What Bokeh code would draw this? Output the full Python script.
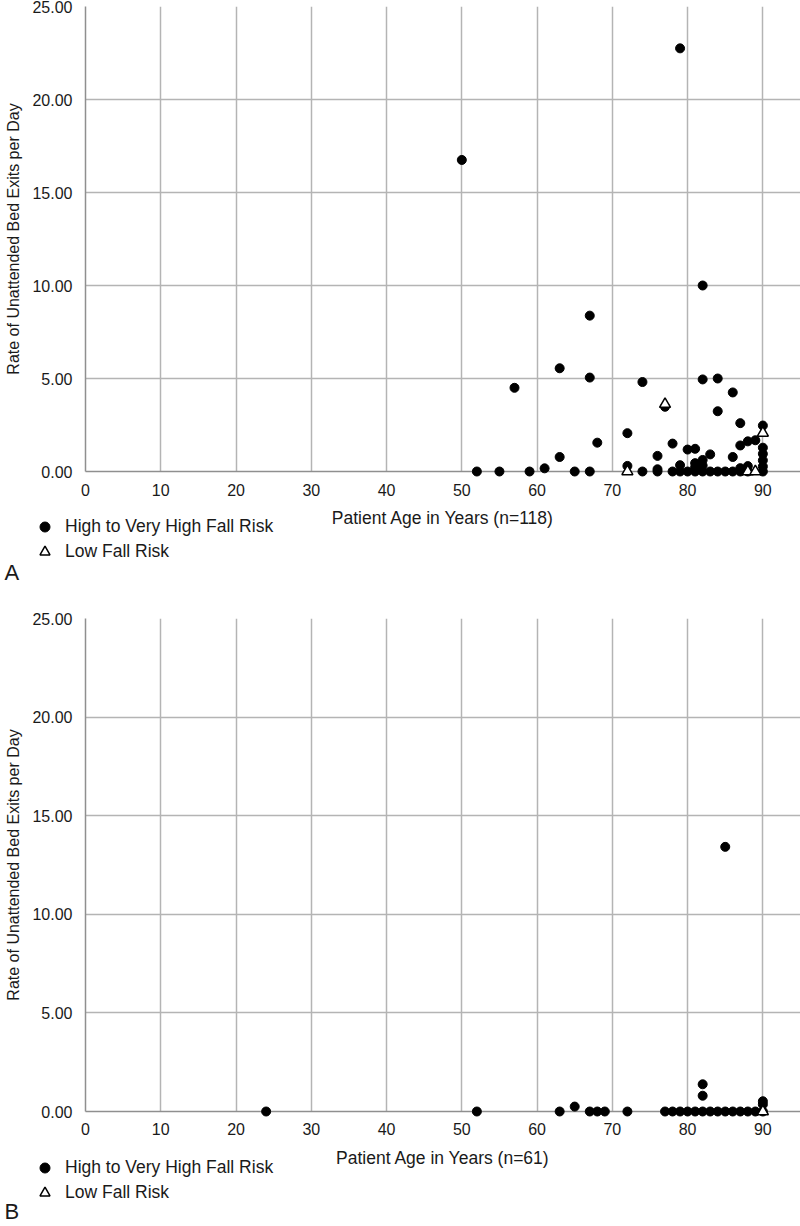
import numpy as np
from bokeh.plotting import figure
from bokeh.layouts import column
from bokeh.models import (Range1d, FixedTicker, Legend, LegendItem, Label,
                          PrintfTickFormatter, ColumnDataSource)
from bokeh.embed import file_html
from bokeh.resources import INLINE

# ---------------- data ----------------
# Panel A (n=118)
a_high_age = [50, 79, 82, 67, 63, 67, 57, 74, 82, 84, 86, 84, 77, 87, 90, 72, 68, 78, 87, 88,
              89, 90, 80, 81, 83, 86, 76, 63, 90, 90, 90, 82, 81, 82, 79, 81, 61, 72, 76, 88,
              87, 52, 55, 59, 65, 67, 74, 76, 78, 79, 80, 81, 82, 83, 84, 85, 86, 87, 88, 90]
a_high_rate = [16.75, 22.75, 10.0, 8.38, 5.55, 5.05, 4.5, 4.81, 4.95, 5.0, 4.25, 3.24, 3.48, 2.6,
               2.47, 2.06, 1.55, 1.5, 1.4, 1.62, 1.68, 1.28, 1.18, 1.22, 0.92, 0.78, 0.84, 0.78,
               0.95, 0.6, 0.27, 0.62, 0.45, 0.32, 0.34, 0.23, 0.17, 0.3, 0.12, 0.29, 0.18,
               0, 0, 0, 0, 0, 0, 0, 0, 0, 0, 0, 0, 0, 0, 0, 0, 0, 0, 0]
a_low_age = [77, 90, 72, 88, 89]
a_low_rate = [3.62, 2.07, 0.0, 0.0, 0.0]

# Panel B (n=61)
b_high_age = [24, 52, 63, 65, 67, 68, 69, 72, 77, 78, 79, 80, 81, 82, 83, 84, 85, 86, 87, 88,
              89, 90, 82, 82, 90, 90, 85]
b_high_rate = [0, 0, 0, 0.25, 0, 0, 0, 0, 0, 0, 0, 0, 0, 0, 0, 0, 0, 0, 0, 0,
               0, 0, 1.38, 0.8, 0.52, 0.36, 13.42]
b_low_age = [90]
b_low_rate = [0.0]

x_ticks = [0, 10, 20, 30, 40, 50, 60, 70, 80, 90]
y_ticks = [0, 5, 10, 15, 20, 25]
legend_labels = ["High to Very High Fall Risk", "Low Fall Risk"]

FONT = "Liberation Sans"
TXT = "#1a1a1a"
GRID = "#b4b4b4"
AXIS = "#8f8f8f"
W = 800

HIGH_STYLE = dict(marker="circle", size=9, fill_color="black", line_color="black")
LOW_STYLE = dict(marker="triangle", size=11, fill_color="white", line_color="black",
                 line_width=1.5)


def panel(high_age, high_rate, low_age, low_rate, xlabel, top, frame_h, bottom,
          tick_standoff, title_standoff):
    p = figure(width=W, height=top + frame_h + bottom, output_backend="svg",
               toolbar_location=None, x_range=Range1d(0, 95), y_range=Range1d(0, 25),
               min_border_left=85, min_border_right=0,
               min_border_top=top, min_border_bottom=bottom)
    p.outline_line_color = None

    for ax in (p.xaxis[0], p.yaxis[0]):
        ax.axis_line_color = AXIS
        ax.axis_line_width = 1.5
        ax.major_tick_line_color = None
        ax.minor_tick_line_color = None
        ax.major_tick_out = 0
        ax.major_tick_in = 0
        ax.major_label_text_font = FONT
        ax.major_label_text_font_size = "16px"
        ax.major_label_text_color = TXT
        ax.axis_label_text_font = FONT
        ax.axis_label_text_font_style = "normal"
        ax.axis_label_text_color = TXT

    p.xaxis.axis_label_text_font_size = "17.5px"
    p.yaxis.axis_label_text_font_size = "16px"
    p.xaxis.ticker = FixedTicker(ticks=x_ticks)
    p.yaxis.ticker = FixedTicker(ticks=y_ticks)
    p.yaxis.formatter = PrintfTickFormatter(format="%.2f")
    p.xaxis.major_label_standoff = tick_standoff
    p.yaxis.major_label_standoff = 13
    p.xaxis.axis_label = xlabel
    p.xaxis.axis_label_standoff = title_standoff
    p.yaxis.axis_label = "Rate of Unattended Bed Exits per Day"
    p.yaxis.axis_label_standoff = 7

    p.xgrid.ticker = FixedTicker(ticks=x_ticks)
    p.ygrid.ticker = FixedTicker(ticks=y_ticks)
    for g in (p.xgrid[0], p.ygrid[0]):
        g.grid_line_color = GRID
        g.grid_line_width = 1.5

    src_h = ColumnDataSource(dict(age=high_age, rate=high_rate))
    src_l = ColumnDataSource(dict(age=low_age, rate=low_rate))
    p.scatter("age", "rate", source=src_h, level="overlay", **HIGH_STYLE)
    p.scatter("age", "rate", source=src_l, level="overlay", **LOW_STYLE)
    return p


def strip(letter, height, overlap, letter_y):
    """Transparent strip below a panel holding its legend and panel letter."""
    s = figure(width=W, height=height, output_backend="svg", toolbar_location=None,
               x_range=Range1d(0, 1), y_range=Range1d(0, 1),
               x_axis_location=None, y_axis_location=None,
               min_border_left=0, min_border_right=0, min_border_top=0, min_border_bottom=0,
               margin=(-overlap, 0, 0, 0))
    s.frame_align = False
    s.grid.visible = False
    s.outline_line_color = None
    s.background_fill_alpha = 0
    s.border_fill_alpha = 0
    nan = np.array([np.nan])
    rh = s.scatter(x=nan, y=nan, **HIGH_STYLE)
    rl = s.scatter(x=nan, y=nan, **LOW_STYLE)
    legend = Legend(items=[LegendItem(label=legend_labels[0], renderers=[rh]),
                           LegendItem(label=legend_labels[1], renderers=[rl])],
                    location=(32, height - 47), orientation="vertical",
                    background_fill_alpha=0, border_line_color=None,
                    padding=0, margin=0, spacing=-5, glyph_width=25, glyph_height=25,
                    label_height=20, label_standoff=8, label_text_font=FONT,
                    label_text_font_size="17.5px", label_text_color=TXT)
    s.add_layout(legend)
    s.add_layout(Label(x=4, y=letter_y, x_units="screen", y_units="screen", text=letter,
                       text_font=FONT, text_font_size="22px", text_color=TXT,
                       text_baseline="middle", text_align="left"))
    return s


pa = panel(a_high_age, a_high_rate, a_low_age, a_low_rate, "Patient Age in Years (n=118)",
           top=6, frame_h=465, bottom=62, tick_standoff=12, title_standoff=9)
sa = strip("A", height=70, overlap=16, letter_y=15)
pb = panel(b_high_age, b_high_rate, b_low_age, b_low_rate, "Patient Age in Years (n=61)",
           top=31, frame_h=493, bottom=62, tick_standoff=11, title_standoff=10)
sb = strip("B", height=68, overlap=15, letter_y=15)

layout = column(pa, sa, pb, sb, spacing=0)
open("out.html", "w").write(file_html(layout, INLINE))
